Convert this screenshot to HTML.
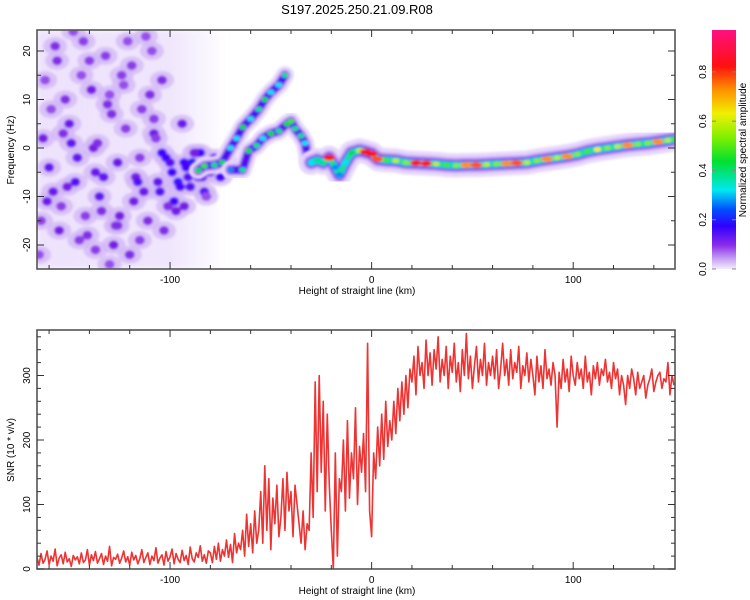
<!DOCTYPE html>
<html><head><meta charset="utf-8">
<style>
html,body{margin:0;padding:0;background:#fff;}
svg{display:block;font-family:"Liberation Sans",sans-serif;}
</style></head>
<body>
<svg id="chart" width="750" height="600" viewBox="0 0 750 600">
<defs>
<linearGradient id="cbar" x1="0" y1="1" x2="0" y2="0">
<stop offset="0" stop-color="#f4ecfd"/>
<stop offset="0.04" stop-color="#c9a6f5"/>
<stop offset="0.1" stop-color="#8a2ce8"/>
<stop offset="0.18" stop-color="#3000ff"/>
<stop offset="0.25" stop-color="#0050ff"/>
<stop offset="0.33" stop-color="#00e8f0"/>
<stop offset="0.45" stop-color="#00e030"/>
<stop offset="0.55" stop-color="#80f000"/>
<stop offset="0.65" stop-color="#f0f000"/>
<stop offset="0.75" stop-color="#ff9000"/>
<stop offset="0.85" stop-color="#ff1010"/>
<stop offset="1" stop-color="#ff1080"/>
</linearGradient>
<linearGradient id="hazeG" x1="0" y1="0" x2="1" y2="0">
<stop offset="0" stop-color="#ecdffc" stop-opacity="0.9"/>
<stop offset="0.7" stop-color="#ecdffc" stop-opacity="0.8"/>
<stop offset="1" stop-color="#ecdffc" stop-opacity="0"/>
</linearGradient>
<clipPath id="clipTop"><rect x="37" y="30" width="638" height="239"/></clipPath>
<clipPath id="clipBot"><rect x="37" y="330" width="638" height="239"/></clipPath>
<filter id="blur1"><feGaussianBlur stdDeviation="1.2"/></filter>
<filter id="blur3"><feGaussianBlur stdDeviation="3"/></filter>
</defs>
<text x="357" y="14" text-anchor="middle" font-size="13">S197.2025.250.21.09.R08</text>
<g id="topPanel"></g>
<g id="botPanel"></g>
<g id="cbPanel"></g>
</svg>
<script>
// ---- data ----
const ridgeH = [-30,-27,-24,-21,-18,-16,-13,-10,-6,-3,0,3,7,12,17,22,27,32,37,42,47,52,57,62,67,72,77,82,87,92,97,102,107,112,117,122,127,132,137,142,147,150];
const ridgeF = [-3,-2.5,-3,-2,-4,-5.5,-3,-1,-0.5,-0.8,-1.2,-2.3,-2.5,-2.6,-3,-3.1,-3.2,-3.3,-3.5,-3.6,-3.5,-3.5,-3.4,-3.3,-3.2,-3.1,-3,-2.6,-2.3,-2,-1.7,-1.3,-0.7,-0.3,0,0.3,0.6,0.8,1,1.3,1.6,1.8];
const ridgeA = [0.35,0.4,0.4,0.85,0.3,0.3,0.35,0.45,0.6,0.85,0.85,0.8,0.5,0.6,0.55,0.85,0.85,0.6,0.5,0.55,0.75,0.8,0.6,0.55,0.75,0.8,0.6,0.55,0.75,0.6,0.75,0.55,0.5,0.65,0.55,0.6,0.75,0.55,0.55,0.75,0.6,0.5];
const upperH = [-86,-83,-78,-74,-70,-67,-64,-60,-56,-53,-50,-46,-43];
const upperF = [-4.6,-3.7,-3.5,-3,0,2,4.3,6,8,10,11.5,13,15];
const upperA = [0.45,0.5,0.4,0.45,0.35,0.35,0.45,0.35,0.4,0.45,0.35,0.35,0.4];
const lowerH = [-70,-64,-61,-57,-54,-50,-46,-42,-40,-38,-35,-33,-31];
const lowerF = [-4.5,-4.5,-0.6,0.5,2,3,3.5,5,5.5,4,2.5,1,-3.4];
const lowerA = [0.3,0.4,0.45,0.4,0.35,0.45,0.4,0.45,0.5,0.4,0.4,0.35,0.35];
const noiseH = [-163,-160,-157,-154,-150,-147,-144,-141,-138,-135,-132,-129,-126,-123,-120,-117,-114,-111,-108,-105,-102,-99,-96,-93,-90,-87,-84,-81,-78,-75,-72,-165,-158,-152,-146,-140,-134,-128,-122,-116,-110,-104,-98,-92,-86,-80,-162,-155,-149,-143,-137,-131,-125,-119,-113,-107,-101,-95,-89,-83,-161,-153,-145,-139,-133,-127,-121,-115,-109,-103,-97,-91,-85,-159,-151,-142,-136,-130,-124,-118,-112,-106,-100,-94,-88,-148,-137,-126,-115,-104,-93,-82,-164,-156,-130,-108];
const noiseF = [2,-4,21,-12,5,-7,15,-18,0,-10,19,7,-3,13,-22,-6,8,-15,3,-9,-2,-5,-7,-3,-8,-1,-6,-4,-2,-6,-3,-22,-9,10,-2,18,-13,-20,4,-7,11,-1,-11,-4,-6,-5,14,-17,1,22,-5,9,-14,17,-9,2,-12,-8,-3,-9,-11,3,-19,12,-6,-16,22,-2,20,-17,-13,-6,-1,8,-8,-14,1,-24,15,-11,23,-7,-3,5,-1,24,-21,-16,-19,14,-12,-10,-15,18,11,6];
const noiseA = [0.15,0.17,0.14,0.13,0.16,0.18,0.12,0.14,0.15,0.17,0.13,0.14,0.16,0.12,0.14,0.15,0.13,0.14,0.16,0.18,0.2,0.2,0.22,0.2,0.18,0.2,0.17,0.15,0.18,0.2,0.17,0.12,0.16,0.14,0.17,0.13,0.14,0.15,0.13,0.18,0.14,0.2,0.2,0.2,0.18,0.16,0.12,0.15,0.17,0.13,0.16,0.14,0.15,0.13,0.16,0.13,0.14,0.19,0.22,0.18,0.16,0.14,0.13,0.15,0.17,0.14,0.12,0.13,0.12,0.14,0.15,0.18,0.2,0.12,0.15,0.13,0.14,0.12,0.13,0.15,0.12,0.17,0.18,0.16,0.15,0.12,0.13,0.14,0.13,0.14,0.15,0.12,0.13,0.14,0.12,0.13];
const snrStart = -166;
const snrVals = [
18,6,24,9,15,28,7,20,12,31,5,17,22,8,26,11,16,4,21,14,
19,8,25,10,14,30,6,22,13,27,9,16,24,7,20,12,35,5,18,15,
23,9,17,28,11,19,6,26,14,21,8,16,30,10,18,25,7,20,13,33,
9,17,22,6,27,12,19,31,8,24,15,10,29,13,21,7,34,16,11,25,
18,36,12,22,9,28,
25,10,35,15,40,12,30,20,45,18,38,10,55,25,40,
30,60,20,85,35,70,25,90,40,60,
120,40,160,60,140,30,110,70,130,50,
80,140,60,150,90,120,50,130,100,70,
40,90,30,70,60,
180,80,290,120,300,150,260,90,240,130,
60,0,180,20,140,
120,200,90,230,110,180,140,250,100,190,
150,210,120,350,90,
50,180,140,220,160,240,170,260,190,230,
200,260,210,280,230,290,240,300,250,310,
290,330,270,345,300,320,280,355,300,335,285,340,310,360,290,325,300,345,280,330,
305,350,290,320,275,340,300,365,295,330,280,315,345,290,325,300,350,285,320,300,
330,295,340,280,310,350,300,325,285,340,295,320,305,345,280,315,300,335,290,325,
300,270,330,290,315,280,340,295,310,285,320,300,220,305,280,325,290,310,275,330,
300,285,320,295,310,280,330,290,305,270,315,295,320,285,310,300,325,290,305,280,
320,295,310,270,300,285,255,300,280,310,295,270,305,280,290,300,265,285,295,310,
275,290,300,305,280,295,290,320,270,300,285
];
const xTicks = [-100,0,100];
const fTicks = [-20,-10,0,10,20];
const snrTicks = [0,100,200,300];
const cbTicks = [0.0,0.2,0.4,0.6,0.8];

// ---- scales ----
const L=37,R=675;
const xMin=-166,xMax=150.5;
const xs=h=>L+(h-xMin)/(xMax-xMin)*(R-L);
const T1=30,B1=269;
const fs=f=>148-f*4.85;
const T2=330,B2=569;
const ss=v=>B2-v*0.645;
const NS='http://www.w3.org/2000/svg';
function mk(tag,parent,attrs){const e=document.createElementNS(NS,tag);for(const k in attrs)e.setAttribute(k,attrs[k]);parent.appendChild(e);return e;}
function cmap(a){
  const st=[[0,[244,236,253]],[0.05,[220,200,250]],[0.1,[170,110,240]],[0.15,[120,30,230]],[0.2,[70,0,255]],[0.27,[0,80,255]],[0.35,[0,230,240]],[0.45,[0,224,48]],[0.55,[128,240,0]],[0.65,[240,240,0]],[0.75,[255,144,0]],[0.85,[255,16,16]],[1,[255,16,128]]];
  for(let i=1;i<st.length;i++){if(a<=st[i][0]){const t=(a-st[i-1][0])/(st[i][0]-st[i-1][0]);const c=st[i-1][1].map((v,j)=>Math.round(v+(st[i][1][j]-v)*t));return 'rgb('+c.join(',')+')';}}
  return 'rgb(255,16,128)';
}

// ---- top panel ----
const topPanel=document.getElementById('topPanel');
const tg=mk('g',topPanel,{'clip-path':'url(#clipTop)'});
const haze=mk('rect',tg,{x:L,y:T1,width:xs(-72)-L,height:B1-T1,fill:'url(#hazeG)',filter:'url(#blur3)'});


const ng=mk('g',tg,{filter:'url(#blur1)'});
for(let i=0;i<noiseH.length;i++){
  const x=xs(noiseH[i]),y=fs(noiseF[i]);
  const h=mk('ellipse',ng,{cx:x,cy:y,rx:12,ry:9,fill:'#d2b6f6',opacity:0.75});
  
  
}
for(let i=0;i<noiseH.length;i++){
  const e=mk('ellipse',ng,{cx:xs(noiseH[i]),cy:fs(noiseF[i]),rx:5,ry:4.5,fill:cmap(noiseA[i])});
  
  
}
function track(H,F,A,name,w,core){
  const g=mk('g',tg,{filter:'url(#blur1)'});
  
  
  const pts=H.map((h,i)=>xs(h)+','+fs(F[i])).join(' ');
  mk('polyline',g,{points:pts,fill:'none',stroke:'#e6d6fb','stroke-width':w*3,'stroke-linejoin':'round','stroke-linecap':'round'});
  mk('polyline',g,{points:pts,fill:'none',stroke:'#c09af3','stroke-width':w*1.9,'stroke-linejoin':'round','stroke-linecap':'round'});
  mk('polyline',g,{points:pts,fill:'none',stroke:'#5010f0','stroke-width':w*1.25,'stroke-linejoin':'round','stroke-linecap':'round'});
  if(core){
    mk('polyline',g,{points:pts,fill:'none',stroke:'#00d8f0','stroke-width':w*0.85,'stroke-linejoin':'round','stroke-linecap':'round'});
    mk('polyline',g,{points:pts,fill:'none',stroke:'#20e060','stroke-width':w*0.4,'stroke-linejoin':'round','stroke-linecap':'round'});
  }
  for(let i=0;i<H.length;i++){
    const a=A[i];
    const e=mk('ellipse',g,{cx:xs(H[i]),cy:fs(F[i]),rx:a>0.7?6:3.5,ry:a>0.7?3:2.5,fill:cmap(a)});
    
    
  }
}
track(upperH,upperF,upperA,'upper-branch',6,false);
track(lowerH,lowerF,lowerA,'lower-branch',6,false);
track(ridgeH,ridgeF,ridgeA,'main-ridge',8,true);

function frame(parent,T,B,name){
  const r=mk('rect',parent,{x:L,y:T,width:R-L,height:B-T,fill:'none',stroke:'#555','stroke-width':1.6});
  
  
  for(let h=-160;h<=150;h+=20){
    const x=xs(h),len=(h%100===0)?7:4;
    mk('line',parent,{x1:x,y1:B,x2:x,y2:B-len,stroke:'#333'});
    mk('line',parent,{x1:x,y1:T,x2:x,y2:T+len,stroke:'#333'});
  }
  xTicks.forEach(v=>{const t=mk('text',parent,{x:xs(v),y:B+14,'text-anchor':'middle','font-size':10});t.textContent=v;
    
    });
  const xl=mk('text',parent,{x:357,y:B+25,'text-anchor':'middle','font-size':10});
  xl.textContent='Height of straight line (km)';
  
  
}
frame(topPanel,T1,B1,'spectrogram-frame');
for(let f=-25;f<=25;f+=5){const y=fs(f);if(y<T1||y>B1)continue;const len=(f%10===0)?7:4;
  mk('line',topPanel,{x1:L,y1:y,x2:L+len,y2:y,stroke:'#333'});mk('line',topPanel,{x1:R,y1:y,x2:R-len,y2:y,stroke:'#333'});}
fTicks.forEach(v=>{const y=fs(v);const t=mk('text',topPanel,{x:30,y:y,'text-anchor':'middle','font-size':10,transform:'rotate(-90 30 '+y+')'});t.textContent=v;
  
  });
const yl=mk('text',topPanel,{x:14,y:150,'text-anchor':'middle','font-size':10,transform:'rotate(-90 14 150)'});
yl.textContent='Frequency (Hz)';



// ---- bottom panel ----
const botPanel=document.getElementById('botPanel');
const bg=mk('g',botPanel,{'clip-path':'url(#clipBot)'});
const snrPts=snrVals.map((v,i)=>xs(snrStart+i)+','+ss(v)).join(' ');
const line=mk('polyline',bg,{points:snrPts,fill:'none',stroke:'#ee3333','stroke-width':1.6,'stroke-linejoin':'round'});


frame(botPanel,T2,B2,'snr-frame');
for(let v=0;v<=360;v+=20){const y=ss(v);const len=(v%100===0)?7:4;
  mk('line',botPanel,{x1:L,y1:y,x2:L+len,y2:y,stroke:'#333'});mk('line',botPanel,{x1:R,y1:y,x2:R-len,y2:y,stroke:'#333'});}
snrTicks.forEach(v=>{const y=ss(v);const t=mk('text',botPanel,{x:30,y:y,'text-anchor':'middle','font-size':10,transform:'rotate(-90 30 '+y+')'});t.textContent=v;
  
  });
const yl2=mk('text',botPanel,{x:14,y:450,'text-anchor':'middle','font-size':10,transform:'rotate(-90 14 450)'});
yl2.textContent='SNR (10 * v/v)';



// ---- colorbar ----
const cbPanel=document.getElementById('cbPanel');
const cr=mk('rect',cbPanel,{x:712,y:30,width:24,height:239,fill:'url(#cbar)'});


const cbs=v=>269-v*(239/0.97);
cbTicks.forEach(v=>{const y=cbs(v);
  mk('line',cbPanel,{x1:712,y1:y,x2:716,y2:y,stroke:'#888'});mk('line',cbPanel,{x1:736,y1:y,x2:732,y2:y,stroke:'#888'});
  const t=mk('text',cbPanel,{x:706,y:y,'text-anchor':'middle','font-size':10,transform:'rotate(-90 706 '+y+')'});t.textContent=v.toFixed(1);
  
  });
const cl=mk('text',cbPanel,{x:746,y:150,'text-anchor':'middle','font-size':10,transform:'rotate(-90 746 150)'});
cl.textContent='Normalized spectral amplitude';


</script>
</body></html>
